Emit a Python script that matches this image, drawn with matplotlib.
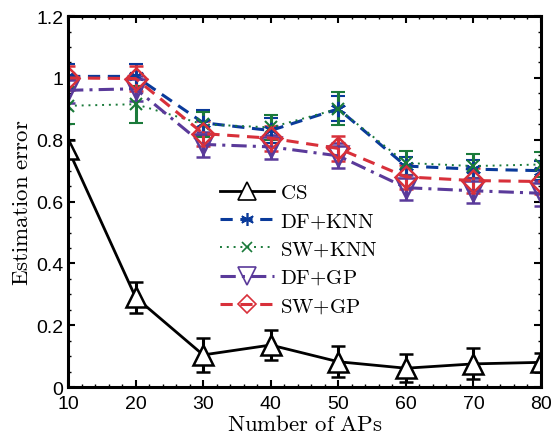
import matplotlib
matplotlib.use("Agg")
import matplotlib.pyplot as plt
from matplotlib.lines import Line2D
from matplotlib.ticker import MultipleLocator
import numpy as np

plt.rcParams['mathtext.fontset'] = 'cm'
plt.rcParams['font.family'] = ['Liberation Sans', 'DejaVu Sans']

aps = [10, 20, 30, 40, 50, 60, 70, 80]

cs = [0.77, 0.29, 0.104, 0.136, 0.082, 0.061, 0.075, 0.080]
cs_err = [0.03, 0.05, 0.055, 0.05, 0.05, 0.045, 0.05, 0.03]

df_knn = [1.005, 1.005, 0.855, 0.83, 0.90, 0.715, 0.705, 0.70]
df_knn_err = [0.04, 0.04, 0.04, 0.04, 0.04, 0.03, 0.03, 0.03]

sw_knn = [0.91, 0.915, 0.85, 0.84, 0.90, 0.725, 0.715, 0.72]
sw_knn_err = [0.06, 0.06, 0.04, 0.04, 0.053, 0.04, 0.04, 0.04]

df_gp = [0.96, 0.965, 0.785, 0.777, 0.748, 0.645, 0.635, 0.627]
df_gp_err = [0.04, 0.04, 0.04, 0.04, 0.04, 0.04, 0.04, 0.04]

sw_gp = [1.0, 0.998, 0.82, 0.805, 0.772, 0.68, 0.668, 0.665]
sw_gp_err = [0.04, 0.04, 0.04, 0.04, 0.04, 0.04, 0.04, 0.04]

labels = ['CS', 'DF{+}KNN', 'SW{+}KNN', 'DF{+}GP', 'SW{+}GP']

fig = plt.figure(figsize=(5.58, 4.39), dpi=100)
ax = fig.add_axes([0.122, 0.116, 0.8475, 0.845])

asterisk = (6, 2, 0)
series = [
    (cs, cs_err, dict(color='black', ls='-', marker='^', mfc='white', ms=15, lw=2.0, mew=1.8)),
    (df_knn, df_knn_err, dict(color='#0a3a9a', ls=(0, (4, 2.5)), marker=asterisk, mfc='none', ms=11, lw=2.2, mew=1.5)),
    (sw_knn, sw_knn_err, dict(color='#1a7a3a', ls=(0, (1, 2.5)), marker='x', mfc='none', ms=9, lw=1.4, mew=1.5)),
    (df_gp, df_gp_err, dict(color='#5a3a9a', ls=(0, (5, 2, 1, 2)), marker='v', mfc='none', ms=15, lw=2.2, mew=1.8)),
    (sw_gp, sw_gp_err, dict(color='#d8303a', ls=(0, (4, 2.5)), marker='D', mfc='none', ms=11, lw=2.2, mew=1.8)),
]

handles = []
for (vals, errs, st), lab in zip(series, labels):
    h = ax.errorbar(aps, vals, yerr=errs, capsize=5, capthick=2.2, elinewidth=2.2,
                    color=st['color'], ls=st['ls'], marker=st['marker'], mfc=st['mfc'],
                    mec=st['color'], ms=st['ms'], lw=st['lw'], mew=st['mew'])
    h[-1][0].set_linestyle('-')
    handles.append(Line2D([], [], color=st['color'], ls=st['ls'], marker=st['marker'],
                          mfc=st['mfc'], mec=st['color'], ms=st['ms'] * 0.85,
                          lw=st['lw'], mew=1.2, label=r'$\mathrm{' + lab + '}$'))

ax.set_xlim(10, 80)
ax.set_ylim(0, 1.2)
ax.set_xticks(aps)
ax.set_yticks([0, 0.2, 0.4, 0.6, 0.8, 1.0, 1.2])
ax.set_yticklabels(['0', '0.2', '0.4', '0.6', '0.8', '1', '1.2'])
ax.xaxis.set_minor_locator(MultipleLocator(2))
ax.yaxis.set_minor_locator(MultipleLocator(0.05))
ax.tick_params(which='major', direction='in', top=True, right=True, labelsize=14, width=1.5, length=5)
ax.tick_params(which='minor', direction='in', top=True, right=True, width=1.0, length=2.5)
ax.tick_params(axis='x', which='major', pad=6)
for s in ax.spines.values():
    s.set_linewidth(2.2)

ax.set_xlabel(r'$\mathrm{Number\ of\ APs}$', fontsize=16.5, labelpad=0)
ax.set_ylabel(r'$\mathrm{Estimation\ error}$', fontsize=16.5, labelpad=2)

leg = ax.legend(handles=handles, loc='upper left', bbox_to_anchor=(0.29, 0.59), frameon=False,
                fontsize=15, handlelength=2.6, labelspacing=0.45, borderpad=0.2,
                handletextpad=0.3)

fig.savefig('out.png', dpi=100)
